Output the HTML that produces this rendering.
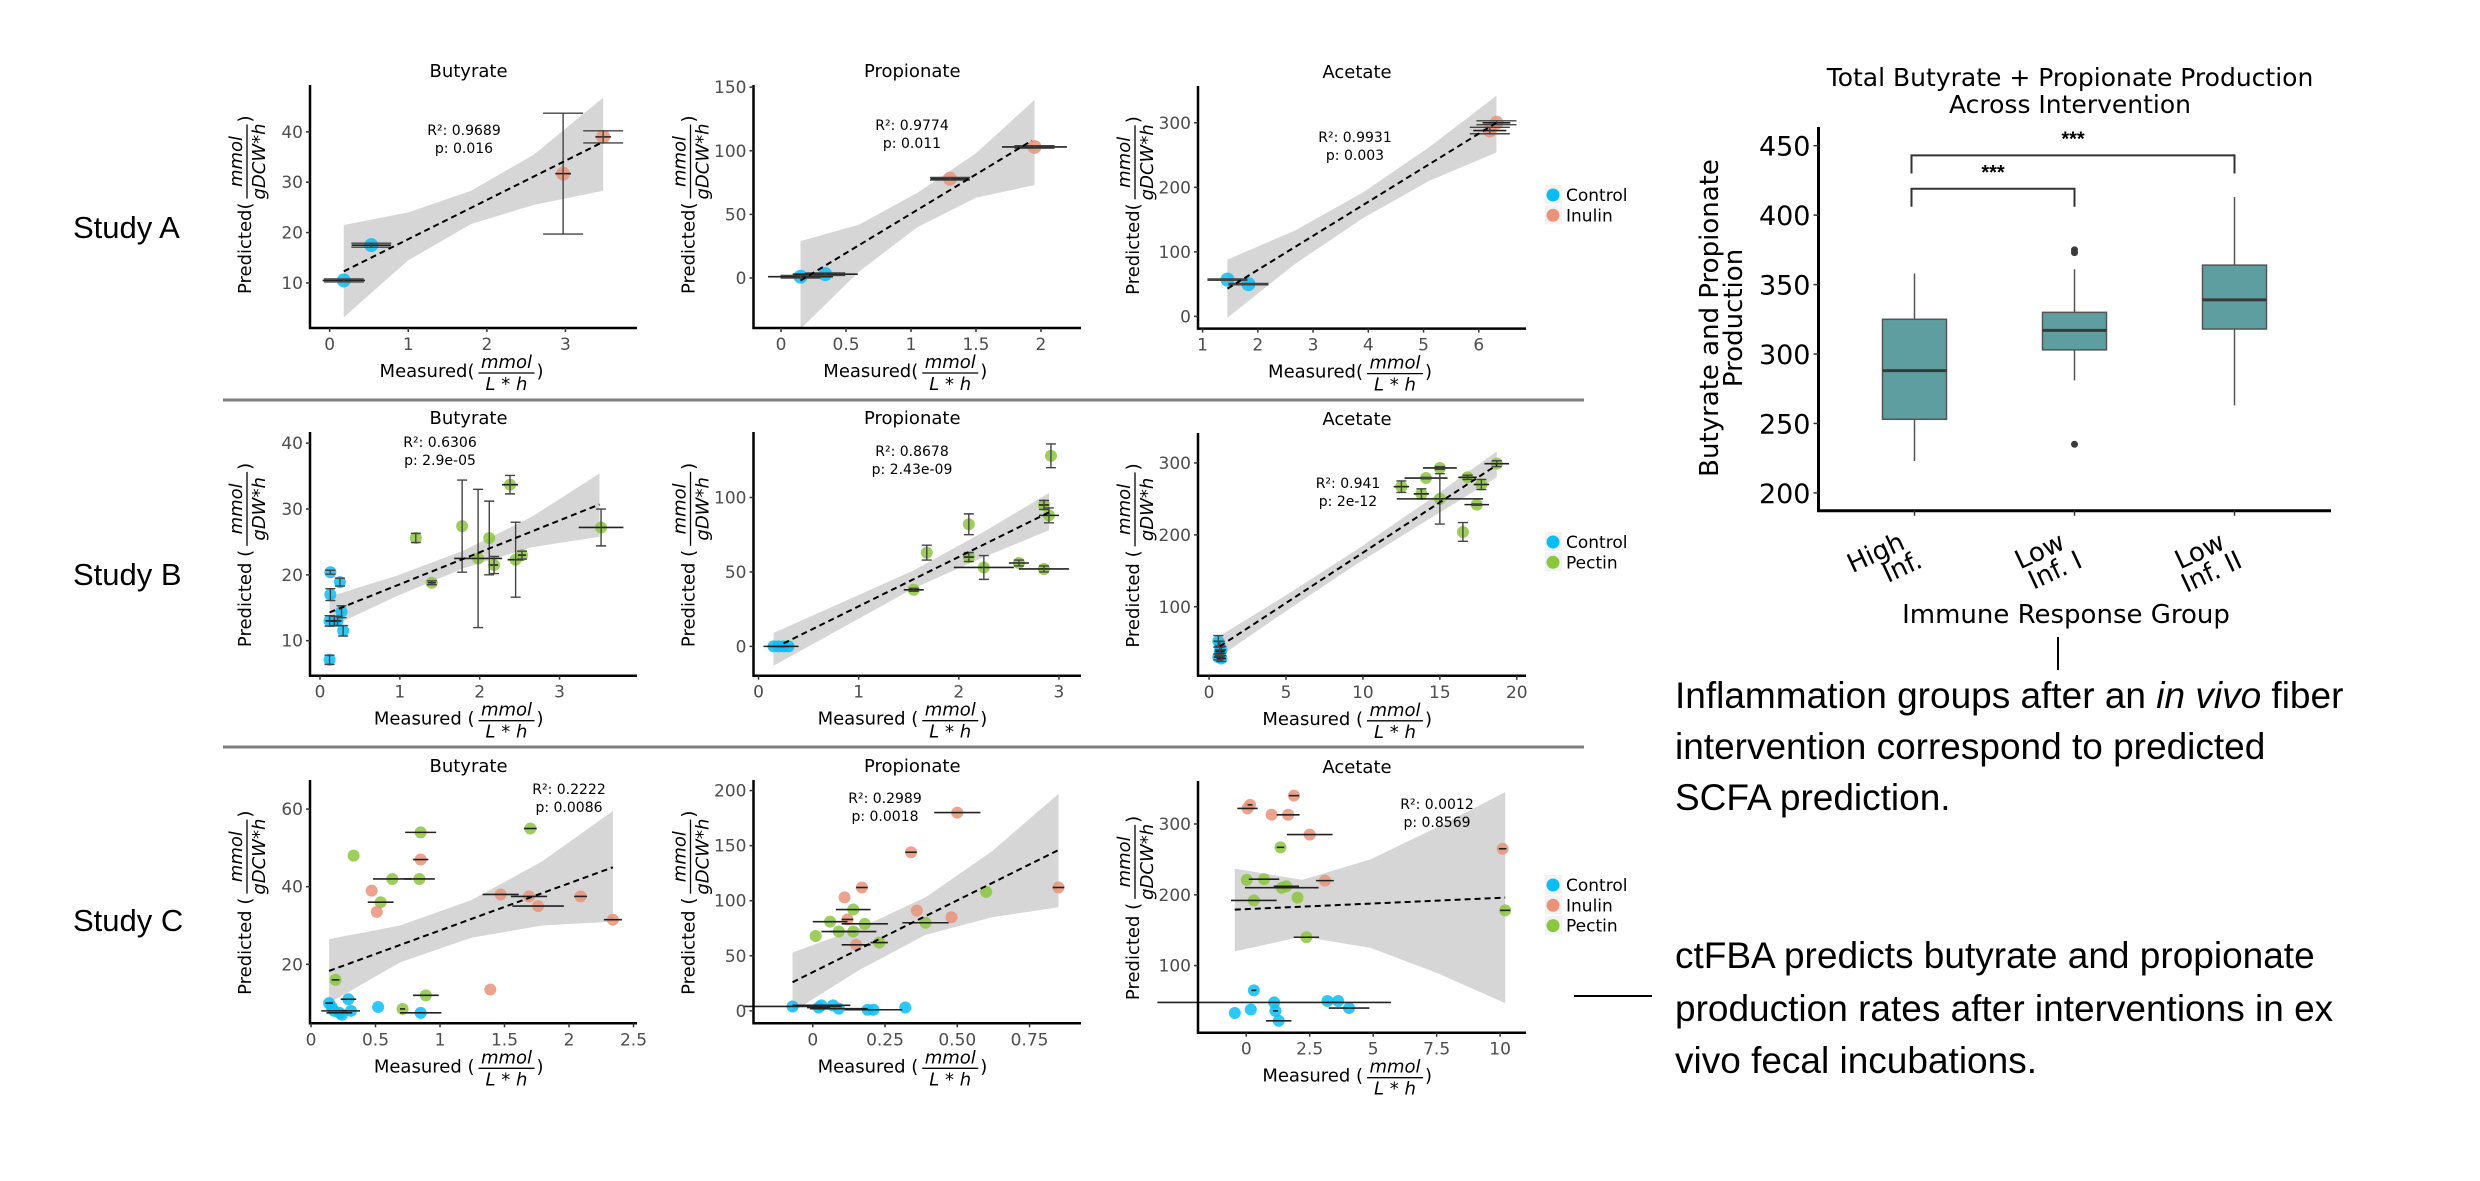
<!DOCTYPE html>
<html><head><meta charset="utf-8"><style>
html,body{margin:0;padding:0;background:#fff;}
svg{display:block;}
</style></head><body>
<svg id="fig" width="2480" height="1181" viewBox="0 0 2480 1181" xmlns="http://www.w3.org/2000/svg">
<rect x="0" y="0" width="2480" height="1181" fill="#fff"/>
<g font-family="Liberation Sans, sans-serif" font-size="31" fill="#000">
<text x="73" y="238">Study A</text>
<text x="73" y="585">Study B</text>
<text x="73" y="931">Study C</text>
</g>
<line x1="223" y1="400" x2="1584" y2="400" stroke="#808080" stroke-width="3"/>
<line x1="223" y1="747" x2="1584" y2="747" stroke="#808080" stroke-width="3"/>
<g id="panels"></g>
<g id="boxplot"></g>
<line x1="2058" y1="637" x2="2058" y2="670" stroke="#000" stroke-width="2"/>
<line x1="1574" y1="996" x2="1652" y2="996" stroke="#000" stroke-width="2"/>
<g font-family="Liberation Sans, sans-serif" font-size="37" fill="#000">
<text x="1675" y="708">Inflammation groups after an <tspan font-style="italic">in vivo</tspan> fiber</text>
<text x="1675" y="759">intervention correspond to predicted</text>
<text x="1675" y="810">SCFA prediction.</text>
<text x="1675" y="968">ctFBA predicts butyrate and propionate</text>
<text x="1675" y="1021">production rates after interventions in ex</text>
<text x="1675" y="1073">vivo fecal incubations.</text>
</g>
</svg>
<script>
// ---------- Study A ----------
const aButX=[0.18,0.53,2.97,3.48];
const aButY=[10.5,17.5,31.7,39];
const aButG="ccii";
const aButXE=[0.27,0.25,0.1,0.1];
const aButYE=[0.3,0.4,12,1.2];
const aButBandX=[0.18,1,1.8,2.6,3.48];
const aButBandLo=[3.2,14.5,21.7,25.5,28.3];
const aButBandHi=[21.5,24,28.3,35.5,46.8];
const aButLineX=[0.18,3.48];
const aButLineY=[12.3,38];

const aProX=[0.15,0.34,1.3,1.95];
const aProY=[1,3,78,103];
const aProG="ccii";
const aProXE=[0.25,0.25,0.15,0.25];
const aProYE=[1,1,1,1];
const aProBandX=[0.15,0.6,1.05,1.5,1.95];
const aProBandLo=[-40,5,40,63,73];
const aProBandHi=[29,42,67,98,140];
const aProLineX=[0.15,1.93];
const aProLineY=[-2,108];

const aAceX=[1.45,1.83,6.2,6.32];
const aAceY=[57,50,288,300];
const aAceG="ccii";
const aAceXE=[0.3,0.25,0.3,0.25];
const aAceYE=[1,1,5,3];
const aAceBandX=[1.45,2.67,3.9,5.1,6.32];
const aAceBandLo=[-2,81,152,210,254];
const aAceBandHi=[88,133,192,262,342];
const aAceLineX=[1.45,6.32];
const aAceLineY=[43,300];

// ---------- Study B ----------
const bButX=[0.13,0.13,0.25,0.27,0.12,0.18,0.22,0.29,0.12,1.2,1.4,1.78,1.98,2.12,2.18,2.38,2.45,2.53,3.52];
const bButY=[20.4,17,18.9,14.4,13,13,13,11.5,7.1,25.6,18.8,27.4,22.5,25.6,21.5,33.7,22.3,23,27.2];
const bButG="cccccccccpppppppppp";
const bButXE=[0,0,0,0,0.05,0.05,0.05,0,0,0,0.05,0,0.3,0,0.05,0.1,0.1,0.05,0.28];
const bButYE=[0.3,0.9,0.6,0.9,0.8,0.7,0.7,0.8,0.7,0.7,0.3,7,10.5,5.6,1.3,1.4,5.7,0.6,2.8];
const bButBandX=[0.12,0.97,1.8,2.65,3.5];
const bButBandLo=[12,16.8,21,24.2,25.8];
const bButBandHi=[16.7,19.9,23.7,28.8,35.4];
const bButLineX=[0.12,3.5];
const bButLineY=[14.3,30.7];

const bProX=[0.15,0.2,0.25,0.3,1.55,1.68,2.1,2.1,2.25,2.6,2.85,2.9,2.85,2.92];
const bProY=[0,0,0,0,38,63,82,60,53,56,95,88,52,128];
const bProG="ccccpppppppppp";
const bProXE=[0.1,0.1,0.1,0.1,0.1,0,0,0.05,0.3,0.1,0.05,0.1,0.25,0];
const bProYE=[0,0,0,0,1,5,7,3,8,2,3,5,2,8];
const bProBandX=[0.15,0.85,1.55,2.25,2.9];
const bProBandLo=[-13,13,39,60,78];
const bProBandHi=[9,30,51,77,103];
const bProLineX=[0.25,2.9];
const bProLineY=[2,90];

const bAceX=[0.6,0.7,0.8,0.7,0.6,0.8,0.7,12.5,13.8,14.1,15,15,16.5,16.8,17.4,17.7,18.7];
const bAceY=[52,45,40,35,30,28,38,267,257,279,293,250,204,280,242,270,299];
const bAceG="cccccccpppppppppp";
const bAceXE=[0.3,0.3,0.3,0.3,0.3,0.3,0.3,0.5,0.5,1.4,1.1,2.8,0,0.6,0.8,0.5,0.8];
const bAceYE=[8,7,5,5,4,4,6,8,7,1,2,35,13,3,1,7,4];
const bAceBandX=[0.5,5,9.5,14,18.7];
const bAceBandLo=[28,94,158,218,280];
const bAceBandHi=[57,116,178,244,316];
const bAceLineX=[0.7,18.7];
const bAceLineY=[45,297];

// ---------- Study C ----------
const cButX=[0.14,0.16,0.18,0.22,0.24,0.29,0.31,0.52,0.85,0.19,0.33,0.54,0.63,0.84,0.85,0.71,0.89,1.7,0.47,0.51,0.85,1.47,1.69,1.76,2.09,2.34,1.39];
const cButY=[10,9,8,7.5,7,11,8,9,7.5,16,48,36,42,42,54,8.5,12,55,39,33.5,47,38,37.5,35,37.5,31.5,13.5];
const cButG="cccccccccpppppppppiiiiiiiii";
const cButXE=[0.03,0,0.1,0.1,0,0.06,0.07,0,0.16,0.03,0,0.1,0.15,0.12,0.12,0.02,0.1,0.05,0,0,0.06,0.14,0.14,0.2,0.05,0.07,0];
const cButYE=[0,0,0,0,0,0,0,0,0,0,0,0,0,0,0,0,0,0,0,0,0,0,0,0,0,0,0];
const cButBandX=[0.14,0.69,1.24,1.79,2.34];
const cButBandLo=[10,20.5,26.8,30,31];
const cButBandHi=[26.5,30,36.5,46.5,59.5];
const cButLineX=[0.14,2.34];
const cButLineY=[18.3,45];

const cProX=[-0.07,0.02,0.03,0.07,0.09,0.19,0.21,0.32,0.5,0.34,0.17,0.11,0.12,0.36,0.48,0.15,0.85,0.01,0.06,0.09,0.14,0.18,0.14,0.23,0.39,0.6];
const cProY=[4,3,5,5,2,1,1,3,180,144,112,103,83,91,85,60,112,68,81,72,92,79,72,62,80,108];
const cProG="cccccccciiiiiiiiippppppppp";
const cProXE=[0.17,0.04,0.1,0,0.1,0.03,0.1,0,0.08,0.02,0.02,0,0.02,0,0,0.05,0.02,0,0.06,0.06,0.06,0.08,0.08,0.03,0.08,0];
const cProYE=[0,0,0,0,0,0,0,0,0,0,0,0,0,0,0,0,0,0,0,0,0,0,0,0,0,0];
const cProBandX=[-0.07,0.16,0.39,0.62,0.85];
const cProBandLo=[-1,37,69,85,94];
const cProBandHi=[53,75,103,145,197];
const cProLineX=[-0.07,0.85];
const cProLineY=[26,146];

const cAceX=[0.05,0.15,1,1.65,1.88,2.5,3.1,10.1,0.02,0.7,1.35,1.4,1.58,0.3,2.02,2.37,10.2,-0.45,0.3,0.18,1.1,1.15,1.28,3.2,3.62,4.05];
const cAceY=[322,327,313,313,340,285,220,265,221,222,267,210,212,192,196,140,178,33,65,38,48,36,22,50,50,40];
const cAceG="iiiiiiiipppppppppccccccccc";
const cAceXE=[0.4,0.1,0,0.45,0.2,0.9,0.35,0.15,0,0.6,0.15,1.45,0.5,0.9,0,0.5,0.2,0,0.1,0,4.6,0.1,0.5,0,0,0.8];
const cAceYE=[0,0,0,0,0,0,0,0,0,0,0,0,0,0,0,0,0,0,0,0,0,0,0,0,0,0];
const cAceBandX=[-0.45,2.2,4.9,7.5,10.2];
const cAceBandLo=[120,141,125,90,47];
const cAceBandHi=[237,221,250,295,345];
const cAceLineX=[-0.45,10.2];
const cAceLineY=[179,196];

// tick labels
const aButXT=[0,1,2,3], aButYT=[10,20,30,40];
const aProXT=[0,0.5,1,1.5,2], aProYT=[0,50,100,150];
const aAceXT=[1,2,3,4,5,6], aAceYT=[0,100,200,300];
const bButXT=[0,1,2,3], bButYT=[10,20,30,40];
const bProXT=[0,1,2,3], bProYT=[0,50,100];
const bAceXT=[0,5,10,15,20], bAceYT=[100,200,300];
const cButXT=[0,0.5,1,1.5,2,2.5], cButYT=[20,40,60];
const cProXT=[0,0.25,0.5,0.75], cProXTL=["0","0.25","0.50","0.75"], cProYT=[0,50,100,150,200];
const cAceXT=[0,2.5,5,7.5,10], cAceYT=[100,200,300];

const colors={c:"#0ABDF5",i:"#E8937A",p:"#8CC63F"};
const NS="http://www.w3.org/2000/svg";
function mk(tag,attrs,parent){const e=document.createElementNS(NS,tag);for(const k in attrs)e.setAttribute(k,attrs[k]);parent.appendChild(e);return e;}

const panels=[
 {id:"a-butyrate",title:"Butyrate",L:310,R:637,T:85,B:328,x0:-0.25,x1:3.91,y0:1.05,y1:49.3,X:aButX,Y:aButY,G:aButG,XE:aButXE,YE:aButYE,bx:aButBandX,blo:aButBandLo,bhi:aButBandHi,lx:aButLineX,ly:aButLineY,xt:aButXT,yt:aButYT,r2:"R²: 0.9689",pv:"p: 0.016",rx:464,ry:135,den:"gDCW*h",sp:"",cap:40,r:7},
 {id:"a-propionate",title:"Propionate",L:753.5,R:1081,T:85,B:328,x0:-0.212,x1:2.308,y0:-39.3,y1:151.7,X:aProX,Y:aProY,G:aProG,XE:aProXE,YE:aProYE,bx:aProBandX,blo:aProBandLo,bhi:aProBandHi,lx:aProLineX,ly:aProLineY,xt:aProXT,yt:aProYT,r2:"R²: 0.9774",pv:"p: 0.011",rx:912,ry:130,den:"gDCW*h",sp:"",cap:40,r:7},
 {id:"a-acetate",title:"Acetate",L:1198,R:1526,T:86,B:328.6,x0:0.917,x1:6.855,y0:-18.9,y1:357,X:aAceX,Y:aAceY,G:aAceG,XE:aAceXE,YE:aAceYE,bx:aAceBandX,blo:aAceBandLo,bhi:aAceBandHi,lx:aAceLineX,ly:aAceLineY,xt:aAceXT,yt:aAceYT,r2:"R²: 0.9931",pv:"p: 0.003",rx:1355,ry:142,den:"gDCW*h",sp:"",cap:40,r:7},
 {id:"b-butyrate",title:"Butyrate",L:310,R:637,T:432,B:675.7,x0:-0.125,x1:3.97,y0:4.68,y1:41.7,X:bButX,Y:bButY,G:bButG,XE:bButXE,YE:bButYE,bx:bButBandX,blo:bButBandLo,bhi:bButBandHi,lx:bButLineX,ly:bButLineY,xt:bButXT,yt:bButYT,r2:"R²: 0.6306",pv:"p: 2.9e-05",rx:440,ry:447,den:"gDW*h",sp:" ",cap:10,r:6},
 {id:"b-propionate",title:"Propionate",L:753.5,R:1081,T:432,B:675.7,x0:-0.05,x1:3.22,y0:-19.7,y1:144,X:bProX,Y:bProY,G:bProG,XE:bProXE,YE:bProYE,bx:bProBandX,blo:bProBandLo,bhi:bProBandHi,lx:bProLineX,ly:bProLineY,xt:bProXT,yt:bProYT,r2:"R²: 0.8678",pv:"p: 2.43e-09",rx:912,ry:456,den:"gDW*h",sp:" ",cap:10,r:6},
 {id:"b-acetate",title:"Acetate",L:1198,R:1526,T:433,B:675.8,x0:-0.72,x1:20.6,y0:4,y1:341.6,X:bAceX,Y:bAceY,G:bAceG,XE:bAceXE,YE:bAceYE,bx:bAceBandX,blo:bAceBandLo,bhi:bAceBandHi,lx:bAceLineX,ly:bAceLineY,xt:bAceXT,yt:bAceYT,r2:"R²: 0.941",pv:"p: 2e-12",rx:1348,ry:488,den:"gDW*h",sp:" ",cap:10,r:6},
 {id:"c-butyrate",title:"Butyrate",L:310,R:637,T:780,B:1023.3,x0:-0.0078,x1:2.527,y0:4.8,y1:67.5,X:cButX,Y:cButY,G:cButG,XE:cButXE,YE:cButYE,bx:cButBandX,blo:cButBandLo,bhi:cButBandHi,lx:cButLineX,ly:cButLineY,xt:cButXT,yt:cButYT,r2:"R²: 0.2222",pv:"p: 0.0086",rx:569,ry:794,den:"gDCW*h",sp:" ",cap:10,r:6},
 {id:"c-propionate",title:"Propionate",L:753.5,R:1081,T:780,B:1023.3,x0:-0.205,x1:0.928,y0:-11.3,y1:209.6,X:cProX,Y:cProY,G:cProG,XE:cProXE,YE:cProYE,bx:cProBandX,blo:cProBandLo,bhi:cProBandHi,lx:cProLineX,ly:cProLineY,xt:cProXT,xtl:cProXTL,yt:cProYT,r2:"R²: 0.2989",pv:"p: 0.0018",rx:885,ry:803,den:"gDCW*h",sp:" ",cap:10,r:6},
 {id:"c-acetate",title:"Acetate",L:1198,R:1526,T:781,B:1032.7,x0:-1.9,x1:11.02,y0:5.2,y1:360.7,X:cAceX,Y:cAceY,G:cAceG,XE:cAceXE,YE:cAceYE,bx:cAceBandX,blo:cAceBandLo,bhi:cAceBandHi,lx:cAceLineX,ly:cAceLineY,xt:cAceXT,yt:cAceYT,r2:"R²: 0.0012",pv:"p: 0.8569",rx:1437,ry:809,den:"gDCW*h",sp:" ",cap:10,r:6}
];

const root=document.getElementById("panels");
const FF="DejaVu Sans, sans-serif";
panels.forEach(p=>{
 const g=mk("g",{},root);
 
 
 const sx=v=>p.L+(v-p.x0)/(p.x1-p.x0)*(p.R-p.L);
 const sy=v=>p.B-(v-p.y0)/(p.y1-p.y0)*(p.B-p.T);
 let d="";
 p.bx.forEach((x,i)=>{d+=(i?"L":"M")+sx(x).toFixed(1)+","+sy(p.bhi[i]).toFixed(1);});
 for(let i=p.bx.length-1;i>=0;i--)d+="L"+sx(p.bx[i]).toFixed(1)+","+sy(p.blo[i]).toFixed(1);
 const band=mk("path",{d:d+"Z",fill:"#d6d6d6"},g);
 
 
 p.X.forEach((x,i)=>{
  const c=mk("circle",{cx:sx(x),cy:sy(p.Y[i]),r:p.r,fill:colors[p.G[i]],"fill-opacity":0.85},g);
  
  
 });
 p.X.forEach((x,i)=>{
  const px=sx(x),py=sy(p.Y[i]);
  if(p.XE[i]>0){
   const e=mk("line",{x1:sx(x-p.XE[i]),x2:sx(x+p.XE[i]),y1:py,y2:py,stroke:"#222","stroke-width":1.6},g);
   
   
  }
  if(p.YE[i]>0){
   const y1=sy(p.Y[i]+p.YE[i]),y2=sy(p.Y[i]-p.YE[i]);
   const e=mk("path",{d:`M${px},${y1}L${px},${y2}M${px-p.cap/2},${y1}L${px+p.cap/2},${y1}M${px-p.cap/2},${y2}L${px+p.cap/2},${y2}`,stroke:"#444","stroke-width":1.4,fill:"none"},g);
   
   
  }
 });
 const ln=mk("line",{x1:sx(p.lx[0]),y1:sy(p.ly[0]),x2:sx(p.lx[1]),y2:sy(p.ly[1]),stroke:"#000","stroke-width":2,"stroke-dasharray":"6,4"},g);
 
 
 const ax=mk("path",{d:`M${p.L},${p.T}L${p.L},${p.B}L${p.R},${p.B}`,stroke:"#000","stroke-width":2.5,fill:"none"},g);
 
 
 p.xt.forEach((v,i)=>{
  const X=sx(v);
  const tk=mk("line",{x1:X,x2:X,y1:p.B,y2:p.B+4,stroke:"#333","stroke-width":1.5},g);
  
  
  const t=mk("text",{x:X,y:p.B+22,"text-anchor":"middle","font-family":FF,"font-size":17,fill:"#4d4d4d"},g);
  t.textContent=p.xtl?p.xtl[i]:String(v);
  
  
 });
 p.yt.forEach(v=>{
  const Y=sy(v);
  const tk=mk("line",{x1:p.L-4,x2:p.L,y1:Y,y2:Y,stroke:"#333","stroke-width":1.5},g);
  
  
  const t=mk("text",{x:p.L-7,y:Y+6,"text-anchor":"end","font-family":FF,"font-size":17,fill:"#4d4d4d"},g);
  t.textContent=String(v);
  
  
 });
 const ti=mk("text",{x:(p.L+p.R)/2-5,y:p.T-8,"text-anchor":"middle","font-family":FF,"font-size":18,fill:"#000"},g);
 ti.textContent=p.title;
 
 
 const r2=mk("text",{x:p.rx,y:p.ry,"text-anchor":"middle","font-family":FF,"font-size":14,fill:"#000"},g);
 r2.textContent=p.r2;
 
 
 const pv=mk("text",{x:p.rx,y:p.ry+18,"text-anchor":"middle","font-family":FF,"font-size":14,fill:"#000"},g);
 pv.textContent=p.pv;
 
 
 const cx=(p.L+p.R)/2-5;
 const xg=mk("g",{"font-family":FF,"font-size":18,fill:"#000"},g);
 
 
 mk("text",{x:cx+6,y:p.B+49,"text-anchor":"end"},xg).textContent="Measured"+p.sp+"(";
 mk("text",{x:cx+38,y:p.B+40,"text-anchor":"middle","font-style":"italic"},xg).textContent="mmol";
 mk("line",{x1:cx+10,x2:cx+66,y1:p.B+45,y2:p.B+45,stroke:"#000","stroke-width":1.3},xg);
 mk("text",{x:cx+38,y:p.B+62,"text-anchor":"middle","font-style":"italic"},xg).textContent="L * h";
 mk("text",{x:cx+68,y:p.B+49},xg).textContent=")";
 const yg=mk("g",{transform:`translate(${p.L-59},${(p.T+p.B)/2}) rotate(-90)`,"font-family":FF,"font-size":18,fill:"#000"},g);
 
 
 mk("text",{x:4,y:0,"text-anchor":"end"},yg).textContent="Predicted"+p.sp+"(";
 mk("text",{x:45,y:-9,"text-anchor":"middle","font-style":"italic"},yg).textContent="mmol";
 mk("line",{x1:8,x2:82,y1:-4,y2:-4,stroke:"#000","stroke-width":1.3},yg);
 mk("text",{x:45,y:14,"text-anchor":"middle","font-style":"italic"},yg).textContent=p.den;
 mk("text",{x:84,y:0},yg).textContent=")";
});

const legendRows=[{y:195,items:["c","i"]},{y:542,items:["c","p"]},{y:885,items:["c","i","p"]}];
const legendNames={c:"Control",i:"Inulin",p:"Pectin"};
legendRows.forEach((row,ri)=>{
 const lg=mk("g",{},root);
 
 
 row.items.forEach((k,j)=>{
  const y=row.y+j*20.3;
  const e=mk("g",{},lg);
  
  
  mk("rect",{x:1545,y:y-10,width:17,height:19,fill:"#f2f2f2"},e);
  mk("circle",{cx:1553,cy:y,r:6.5,fill:colors[k]},e);
  const t=mk("text",{x:1566,y:y+6,"font-family":FF,"font-size":17,fill:"#000"},e);
  t.textContent=legendNames[k];
 });
});

// ---------- Box plot ----------
const boxGroups=["High Inf.","Low Inf. I","Low Inf. II"];
const boxQ1=[253,303,318];
const boxMed=[288,317,339];
const boxQ3=[325,330,364];
const boxWLo=[223,281,263];
const boxWHi=[358,361,413];
const boxOutG=[1,1,1];
const boxOutV=[375,373,235];
const boxYT=[200,250,300,350,400,450];
const brackets=[[0,1,419,406],[0,2,443,430]];

(function(){
 const bg=document.getElementById("boxplot");
 const L=1818.5,R=2331,B=510.7;
 const sy=v=>492.9-(v-200)*(492.9-145.7)/250;
 const centers=[1914.5,2074.7,2234.5];
 const sx=i=>centers[0]+i*(centers[2]-centers[0])/2;
 const F="DejaVu Sans, sans-serif";
 const t1=mk("text",{x:2070,y:86,"text-anchor":"middle","font-family":F,"font-size":25},bg);
 t1.textContent="Total Butyrate + Propionate Production";
 
 
 const t2=mk("text",{x:2070,y:113,"text-anchor":"middle","font-family":F,"font-size":25},bg);
 t2.textContent="Across Intervention";
 
 
 boxGroups.forEach((gname,i)=>{
  const X=sx(i);
  const g=mk("g",{},bg);
  
  
  mk("line",{x1:X,x2:X,y1:sy(boxWLo[i]),y2:sy(boxQ1[i]),stroke:"#555","stroke-width":1.5},g);
  mk("line",{x1:X,x2:X,y1:sy(boxQ3[i]),y2:sy(boxWHi[i]),stroke:"#555","stroke-width":1.5},g);
  mk("rect",{x:X-32,y:sy(boxQ3[i]),width:64,height:sy(boxQ1[i])-sy(boxQ3[i]),fill:"#5F9EA0",stroke:"#555","stroke-width":1.5},g);
  mk("line",{x1:X-32,x2:X+32,y1:sy(boxMed[i]),y2:sy(boxMed[i]),stroke:"#3a3a3a","stroke-width":3},g);
 });
 boxOutV.forEach((v,i)=>{
  const c=mk("circle",{cx:sx(boxOutG[i]),cy:sy(v),r:3.5,fill:"#3a3a3a"},bg);
  
  
 });
 brackets.forEach(b=>{
  const x1=sx(b[0])-3,x2=sx(b[1]);
  const p=mk("path",{d:`M${x1},${sy(b[3])}L${x1},${sy(b[2])}L${x2},${sy(b[2])}L${x2},${sy(b[3])}`,stroke:"#333","stroke-width":2,fill:"none"},bg);
  
  
  const s=mk("text",{x:(x1+x2)/2,y:sy(b[2])-10,"text-anchor":"middle","font-family":"Liberation Sans, sans-serif","font-size":20,"font-weight":"bold"},bg);
  s.textContent="***";
  
  
 });
 const ax=mk("path",{d:`M${L},${127}L${L},${B}L${R},${B}`,stroke:"#000","stroke-width":3,fill:"none"},bg);
 
 
 boxYT.forEach(v=>{
  mk("line",{x1:L-5,x2:L,y1:sy(v),y2:sy(v),stroke:"#333","stroke-width":1.5},bg);
  const t=mk("text",{x:L-8,y:sy(v)+10,"text-anchor":"end","font-family":F,"font-size":27},bg);
  t.textContent=String(v);
  
  
 });
 boxGroups.forEach((gname,i)=>{
  const X=sx(i);
  mk("line",{x1:X,x2:X,y1:B,y2:B+5,stroke:"#333","stroke-width":1.5},bg);
  const parts=gname.split(" ");
  const l1=parts[0], l2=parts.slice(1).join(" ");
  const tg=mk("g",{transform:`translate(${X-8},${548}) rotate(-25)`,"font-family":F,"font-size":26},bg);
  
  
  mk("text",{x:0,y:0,"text-anchor":"end"},tg).textContent=l1;
  mk("text",{x:8,y:24,"text-anchor":"end"},tg).textContent=l2;
 });
 const yl=mk("g",{transform:"translate(1718,318) rotate(-90)","font-family":F,"font-size":26},bg);
 
 
 mk("text",{x:0,y:0,"text-anchor":"middle"},yl).textContent="Butyrate and Propionate";
 mk("text",{x:0,y:24,"text-anchor":"middle"},yl).textContent="Production";
 const xl=mk("text",{x:2066,y:623,"text-anchor":"middle","font-family":F,"font-size":26},bg);
 xl.textContent="Immune Response Group";
 
 
})();
</script>
</body></html>
